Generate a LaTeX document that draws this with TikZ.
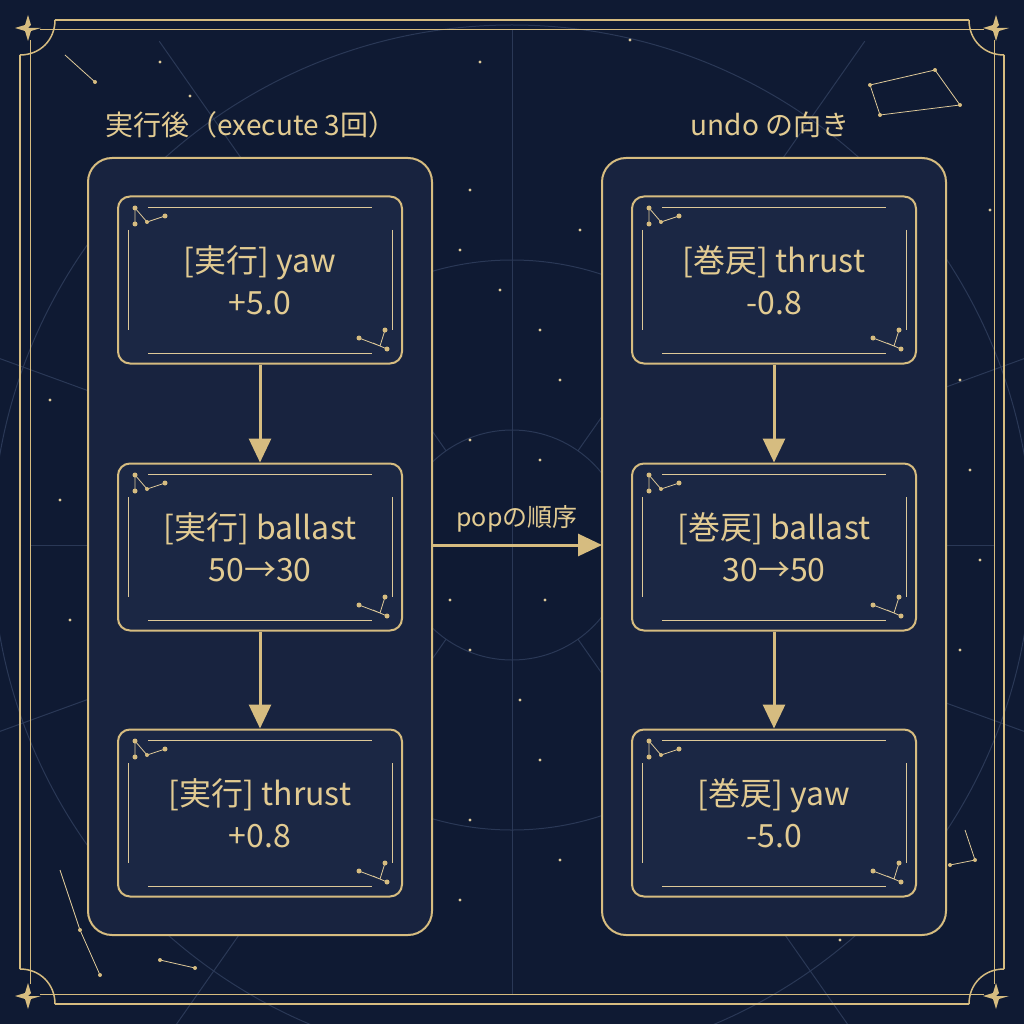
\documentclass[tikz,border=0pt]{standalone}
\usepackage{fontspec}
\setmainfont{Noto Sans CJK JP}
\usetikzlibrary{arrows.meta}
\definecolor{bg}{HTML}{0F1A33}
\definecolor{cont}{HTML}{18233F}
\definecolor{nodef}{HTML}{1B2744}
\definecolor{gold}{HTML}{D6BC80}
\definecolor{goldt}{HTML}{E2CB92}
\definecolor{faint}{HTML}{2A3856}
\tikzset{
  cont/.style={draw=gold,line width=2pt,fill=cont,rounded corners=24pt},
  box/.style={draw=gold,line width=2pt,fill=nodef,rounded corners=12pt,minimum width=284pt,minimum height=167pt,text=goldt,font=\fontsize{32}{42}\selectfont,align=center},
  arr/.style={draw=gold,line width=3pt,-{Triangle[length=24pt,width=22pt]}},
  title/.style={text=goldt,font=\fontsize{28}{34}\selectfont},
  thin/.style={draw=gold!80,line width=0.8pt},
}
\newcommand{\boxdeco}[2]{%
  \begin{scope}[shift={(#1,#2)}]
   \draw[thin] (-112,-73)--(112,-73) (-112,73)--(112,73) (-132,-50)--(-132,50) (132,-50)--(132,50);
   \draw[thin] (-125,-56)--(-125,-72)--(-113,-58)--(-95,-64);
   \fill[gold] (-125,-56) circle(2.5) (-125,-72) circle(2.5) (-113,-58) circle(2) (-95,-64) circle(2.5);
   \draw[thin] (113,63)--(127,69) (125,50)--(120,66) (99,58)--(120,66);
   \fill[gold] (99,58) circle(2.5) (125,50) circle(2.5) (127,69) circle(2.5);
  \end{scope}}
\begin{document}
\begin{tikzpicture}[x=1pt,y=-1pt]
\fill[bg] (0,0) rectangle (1024,1024);
\useasboundingbox (0,0) rectangle (1024,1024);
% faint background
\begin{scope}[draw=faint,line width=1pt]
 \draw (512,545) circle (115) (512,545) circle (285) (512,545) circle (520);
 \draw (512,30)--(512,994) (30,545)--(994,545);
 \foreach \a in {20,55,125,160,200,235,305,340}{\draw (512,545)++(\a:115)--++(\a:500);}
\end{scope}
\clip (0,0) rectangle (1024,1024);
% stars
\foreach \x/\y in {160/62, 190/96, 480/62, 630/40, 470/190, 460/250, 540/330, 560/380, 470/440, 540/460, 450/600, 520/700, 540/760, 470/820, 560/860, 460/900, 960/380, 970/470, 980/560, 960/650, 50/400, 60/500, 70/620, 990/210, 840/940, 580/230, 500/290, 470/650, 545/600}{\fill[gold!80] (\x,\y) circle (1.6);}
\draw[thin] (65,55)--(95,82) (870,85)--(935,70)--(960,105)--(880,115)--cycle (965,830)--(975,860)--(950,865) (60,870)--(80,930)--(100,975) (160,960)--(195,968);
\foreach \x/\y in {95/82, 870/85, 935/70, 960/105, 880/115, 975/860, 950/865, 80/930, 100/975, 160/960, 195/968}{\fill[gold] (\x,\y) circle (2);}
% frame
\begin{scope}[draw=gold,line width=1.5pt]
 \draw (55,20)--(969,20) (1004,55)--(1004,969) (969,1004)--(55,1004) (20,969)--(20,55);
 \draw (55,20) .. controls (55,40) and (40,55) .. (20,55);
 \draw (969,20) .. controls (969,40) and (984,55) .. (1004,55);
 \draw (55,1004) .. controls (55,984) and (40,969) .. (20,969);
 \draw (969,1004) .. controls (969,984) and (984,969) .. (1004,969);
 \draw[line width=1pt] (40,30)--(984,30) (994,40)--(994,984) (984,994)--(40,994) (30,984)--(30,40);
 \foreach \x/\y in {28/28, 996/28, 28/996, 996/996}{\fill[gold] (\x,\y) -- ++(3,-3) -- ++(-3,-10) -- ++(-3,10) -- ++(-10,3) -- ++(10,3) -- ++(3,10) -- ++(3,-10) -- ++(10,-3) -- cycle;}
\end{scope}
% containers
\draw[cont] (88,158) rectangle (432,935);
\draw[cont] (602,158) rectangle (946,935);
\node[title] (t1) at (251,125) {実行後（execute 3回）};
\node[title] (t2) at (770,125) {undo の向き};
% nodes
\node[box] (a1) at (260,280) {[実行] yaw\\+5.0};
\node[box] (a2) at (260,547) {[実行] ballast\\50→30};
\node[box] (a3) at (260,813) {[実行] thrust\\+0.8};
\node[box] (b1) at (774,280) {[巻戻] thrust\\-0.8};
\node[box] (b2) at (774,547) {[巻戻] ballast\\30→50};
\node[box] (b3) at (774,813) {[巻戻] yaw\\-5.0};
\foreach \x in {260,774}{\foreach \y in {280,547,813}{\boxdeco{\x}{\y}}}
\draw[arr] (a1)--(a2);
\draw[arr] (a2)--(a3);
\draw[arr] (b1)--(b2);
\draw[arr] (b2)--(b3);
\coordinate (l) at (432,545);
\coordinate (r) at (602,545);
\draw[arr] (l)--node[above=8pt,title,font=\fontsize{25}{30}\selectfont]{popの順序}(r);
\end{tikzpicture}
\end{document}
